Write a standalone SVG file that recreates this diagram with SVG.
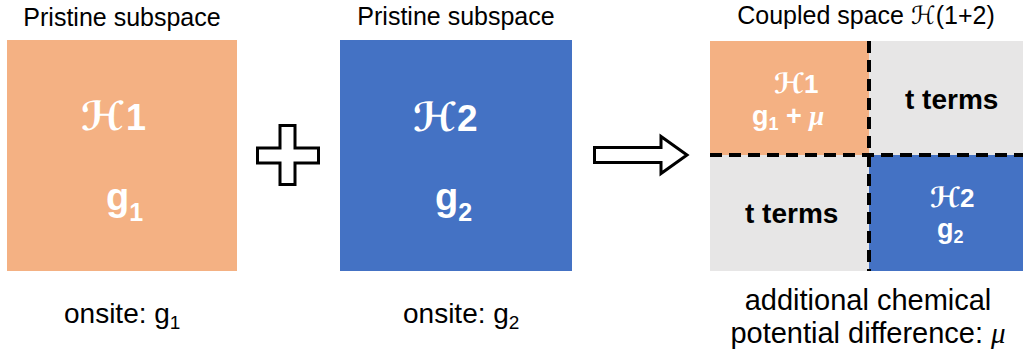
<svg xmlns="http://www.w3.org/2000/svg" width="1023" height="356" viewBox="0 0 1023 356">
<style>
.lbl{font-family:"Liberation Sans",Arial,sans-serif;fill:#000}
.big{font-family:"Liberation Sans",Arial,sans-serif;font-weight:bold;fill:#fff}
.scr{font-family:"DejaVu Sans",sans-serif;font-style:normal}
.mu{font-family:"Liberation Serif",serif;font-style:italic}
.outline{fill:#fff;stroke:#000;stroke-width:3;stroke-linejoin:miter}
.dash{stroke:#000;stroke-width:4;stroke-dasharray:12 7;fill:none}
</style>
<rect width="1023" height="356" fill="#fff"/>
<g id="pristine1">
<text class="lbl" x="122" y="26" font-size="25" text-anchor="middle">Pristine subspace</text>
<rect x="7" y="40" width="230" height="231" fill="#F4B183"/>
<text class="big" x="81" y="130" font-size="36"><tspan class="scr" font-size="40">ℋ</tspan><tspan dx="2">1</tspan></text>
<text class="big" x="106" y="210" font-size="38">g<tspan font-size="25" dy="11">1</tspan></text>
<text class="lbl" x="64" y="323" font-size="28">onsite: g<tspan font-size="19" dy="6">1</tspan></text>
</g>
<g id="plus">
<polygon class="outline" points="280,125.5 295,125.5 295,148 318.5,148 318.5,163 295,163 295,184.5 280,184.5 280,163 257.5,163 257.5,148 280,148"/>
</g>
<g id="pristine2">
<text class="lbl" x="456" y="25" font-size="25" text-anchor="middle">Pristine subspace</text>
<rect x="340" y="40" width="232" height="231" fill="#4472C4"/>
<text class="big" x="413" y="131" font-size="37"><tspan class="scr" font-size="40">ℋ</tspan><tspan dx="1">2</tspan></text>
<text class="big" x="435" y="210" font-size="38">g<tspan font-size="25" dy="11">2</tspan></text>
<text class="lbl" x="403" y="323" font-size="28">onsite: g<tspan font-size="19" dy="6">2</tspan></text>
</g>
<g id="arrow">
<polygon class="outline" points="594.5,147.5 661,147.5 661,136.5 687,155 661,173.5 661,162.5 594.5,162.5"/>
</g>
<g id="coupled">
<text class="lbl" x="866" y="24" font-size="25" text-anchor="middle">Coupled space <tspan class="scr" font-weight="normal">ℋ</tspan>(1+2)</text>
<rect x="710" y="41" width="313" height="230" fill="#E7E6E6"/>
<rect x="710" y="41" width="159" height="114" fill="#F4B183"/>
<rect x="869" y="155" width="154" height="116" fill="#4472C4"/>
<text class="big" x="774" y="93" font-size="26"><tspan class="scr" font-size="28">ℋ</tspan>1</text>
<text class="big" x="752" y="125" font-size="27">g<tspan font-size="18" dy="5">1</tspan><tspan dy="-5"> + </tspan><tspan class="mu">μ</tspan></text>
<text class="big" x="905" y="109" font-size="28" style="fill:#000">t terms</text>
<text class="big" x="745" y="223" font-size="28" style="fill:#000">t terms</text>
<text class="big" x="930" y="207" font-size="26"><tspan class="scr" font-size="28">ℋ</tspan>2</text>
<text class="big" x="937" y="238" font-size="27">g<tspan font-size="18" dy="5">2</tspan></text>
<text class="lbl" x="868" y="310" font-size="29" text-anchor="middle">additional chemical</text>
<text class="lbl" x="868" y="343" font-size="29" text-anchor="middle">potential difference: <tspan class="mu">μ</tspan></text>
</g>
<g id="connectors">
<line class="dash" x1="869" y1="41" x2="869" y2="271"/>
<line class="dash" x1="710" y1="155" x2="1023" y2="155"/>
</g>
</svg>
